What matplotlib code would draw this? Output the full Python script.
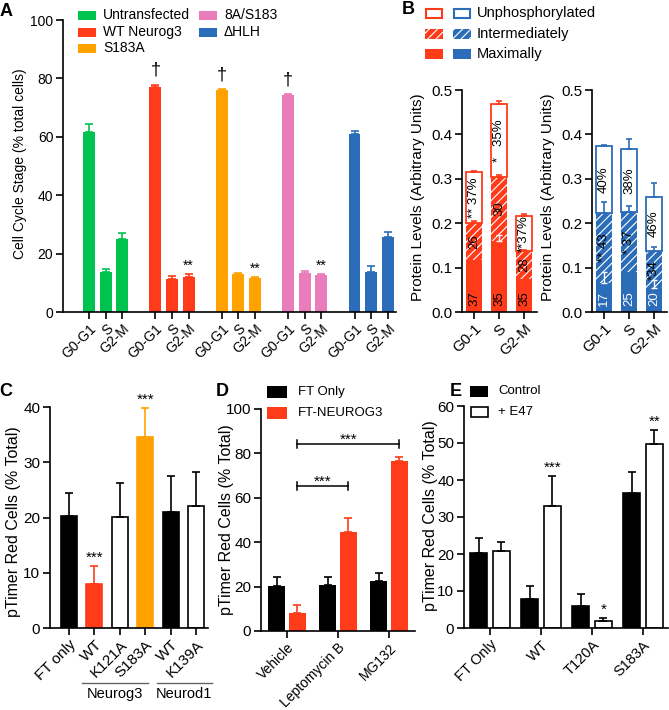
import matplotlib
matplotlib.use("Agg")
import matplotlib.pyplot as plt
from matplotlib.patches import Rectangle
import numpy as np

plt.rcParams["font.family"] = ["Liberation Sans", "DejaVu Sans"]
plt.rcParams["hatch.linewidth"] = 0.8

W, H = 669, 710

# ── COLOURS ───────────────────────────────────────────────────────────────────
GREEN = "#00C24F"
RED = "#FF3B1A"
ORANGE = "#FFA200"
PINK = "#E97DBB"
BLUE = "#2B6DB8"

# ── PANEL A: cell cycle stage ─────────────────────────────────────────────────
a_groups = ["Untransfected", "WT Neurog3", "S183A", "8A/S183", "ΔHLH"]
a_phases = ["G0-G1", "S", "G2-M"]
a_colors = [GREEN, RED, ORANGE, PINK, BLUE]
a_means = [[61.5, 13.6, 25.0],
           [77.0, 11.3, 12.0],
           [76.0, 12.9, 11.7],
           [74.3, 13.2, 12.7],
           [60.8, 13.7, 25.8]]
a_errs = [[2.9, 1.0, 2.2],
          [0.9, 1.1, 0.9],
          [0.2, 0.3, 0.4],
          [0.2, 0.8, 0.3],
          [1.3, 2.2, 1.7]]
a_dagger = ["", "†", "†", "†", ""]
a_star = ["", "**", "**", "**", ""]

# ── PANEL B: phosphorylation states (stacked) ─────────────────────────────────
b_phases = ["G0-1", "S", "G2-M"]
b_red_max = [0.117, 0.160, 0.075]
b_red_int = [0.083, 0.145, 0.062]
b_red_unp = [0.116, 0.163, 0.079]
b_red_max_err = [0.0, 0.013, 0.0]
b_red_int_err = [0.005, 0.004, 0.003]
b_red_unp_err = [0.002, 0.007, 0.004]
b_red_max_lab = ["37", "35", "35"]
b_red_int_lab = ["26", "30", "28"]
b_red_unp_lab = ["** 37%", "*   35%", "**37%"]

b_blue_max = [0.065, 0.090, 0.053]
b_blue_int = [0.159, 0.136, 0.085]
b_blue_unp = [0.150, 0.140, 0.120]
b_blue_max_err = [0.025, 0.0, 0.018]
b_blue_int_err = [0.023, 0.012, 0.009]
b_blue_unp_err = [0.002, 0.023, 0.032]
b_blue_max_lab = ["17", "25", "20"]
b_blue_int_lab = ["** 43", "* 37", "*34"]
b_blue_unp_lab = ["40%", "38%", "46%"]

# ── PANEL C: pTimer, mutants ──────────────────────────────────────────────────
c_labels = ["FT only", "WT", "K121A", "S183A", "WT", "K139A"]
c_means = [20.3, 7.9, 20.1, 34.5, 21.0, 22.0]
c_errs = [4.1, 3.4, 6.1, 5.4, 6.6, 6.2]
c_colors = ["black", RED, "white", ORANGE, "black", "white"]
c_edge_colors = ["black", RED, "black", ORANGE, "black", "black"]
c_star = ["", "***", "", "***", "", ""]

# ── PANEL D: inhibitors ───────────────────────────────────────────────────────
d_labels = ["Vehicle", "Leptomycin B", "MG132"]
d_ft_only = [20.3, 20.8, 22.3]
d_ft_only_err = [4.1, 3.6, 3.9]
d_ft_neurog3 = [8.0, 44.5, 76.5]
d_ft_neurog3_err = [3.5, 6.5, 2.0]

# ── PANEL E: E47 co-expression ────────────────────────────────────────────────
e_labels = ["FT Only", "WT", "T120A", "S183A"]
e_control = [20.2, 7.8, 6.0, 36.4]
e_control_err = [4.2, 3.6, 3.2, 5.8]
e_e47 = [20.9, 33.0, 1.8, 49.7]
e_e47_err = [2.4, 8.1, 0.9, 3.9]
e_star = ["", "***", "*", "**"]

fig = plt.figure(figsize=(W / 100, H / 100), dpi=100)
fig.patch.set_facecolor("white")


def px_axes(x0, y0, x1, y1):
    """Axes placed by pixel box (top-left origin)."""
    ax = fig.add_axes([x0 / W, 1 - y1 / H, (x1 - x0) / W, (y1 - y0) / H])
    ax.patch.set_visible(False)
    return ax


def style(ax, fs):
    for s in ["top", "right"]:
        ax.spines[s].set_visible(False)
    for s in ["left", "bottom"]:
        ax.spines[s].set_linewidth(1.2)
    ax.tick_params(width=1.2, length=5, labelsize=fs, pad=2)


def up_err(ax, x, y, e, color, cap=3, lw=1.2):
    e = np.asarray(e, dtype=float)
    ax.errorbar(x, y, yerr=[np.zeros_like(e), e], fmt="none", ecolor=color,
                elinewidth=lw, capsize=cap, capthick=lw, zorder=3)


def stars(ax, xs, tops, texts, fs, offset=3):
    for x, t, s in zip(xs, tops, texts):
        if s:
            ax.annotate(s, (x, t), xytext=(0, offset), textcoords="offset points",
                        ha="center", va="baseline", fontsize=fs,
                        annotation_clip=False)


def rot_labels(ax, labels, fs):
    ax.set_xticklabels(labels, rotation=45, ha="right", rotation_mode="anchor",
                       fontsize=fs)


# ── overlay for labels / legends ──────────────────────────────────────────────
ov = fig.add_axes([0, 0, 1, 1])
ov.set_xlim(0, W)
ov.set_ylim(H, 0)
ov.axis("off")
ov.set_zorder(10)


def leg_box(x0, yc, w, h, **kw):
    ov.add_patch(Rectangle((x0, yc - h / 2), w, h, **kw))


# ── A ─────────────────────────────────────────────────────────────────────────
axA = px_axes(63, 20, 396, 312)
style(axA, 10)
xa = np.arange(5)[:, None] * 4 + np.arange(3)[None, :]
for g in range(5):
    xs = xa[g]
    axA.bar(xs, a_means[g], width=0.72, color=a_colors[g], zorder=2)
    up_err(axA, xs, a_means[g], a_errs[g], a_colors[g])
    tops = np.array(a_means[g]) + np.array(a_errs[g])
    stars(axA, [xs[0]], [tops[0]], [a_dagger[g]], 13, offset=7)
    stars(axA, [xs[2]], [tops[2]], [a_star[g]], 10)
axA.set_xlim(-1.57, 18.5)
axA.set_ylim(0, 100)
axA.set_yticks(np.arange(0, 101, 20))
axA.set_xticks(xa.ravel())
rot_labels(axA, a_phases * 5, 10)

for i, (name, col) in enumerate(zip(a_groups, a_colors)):
    cx = [78, 199][i // 3]
    cy = [15, 32, 48][i % 3]
    leg_box(cx, cy, 18, 9, facecolor=col, edgecolor="none")
    ov.text(cx + 25, cy, name, fontsize=10, va="center", ha="left")

# ── B ─────────────────────────────────────────────────────────────────────────
def stacked(ax, color, mx, it, un, mx_e, it_e, un_e, mx_l, it_l, un_l, mx_tc):
    x = np.arange(3)
    mx, it, un = map(np.asarray, (mx, it, un))
    bw = 0.64
    ax.bar(x, mx, width=bw, color=color, lw=0, zorder=2)
    ax.bar(x, it, bottom=mx, width=bw, facecolor=color, edgecolor="white",
           hatch="////", lw=0, zorder=2)
    ax.bar(x, un, bottom=mx + it, width=bw, facecolor="white", edgecolor=color,
           lw=1.3, zorder=2)
    for xi, y, e in zip(x, mx, mx_e):
        if e > 0:
            up_err(ax, [xi], [y], [e], "white", cap=2.5, lw=1.0)
    up_err(ax, x, mx + it, it_e, color, cap=2.5)
    up_err(ax, x, mx + it + un, un_e, color, cap=2.5)
    for i in range(3):
        ax.text(x[i], 0.014, mx_l[i], rotation=90, ha="center", va="bottom",
                fontsize=9.5, color=mx_tc, zorder=4)
        ax.text(x[i], mx[i] + it[i] / 2, it_l[i], rotation=90, ha="center",
                va="center", fontsize=9.5, color="black", zorder=4)
        ax.text(x[i], mx[i] + it[i] + un[i] / 2, un_l[i], rotation=90,
                ha="center", va="center", fontsize=9.5, color="black", zorder=4)
    ax.set_xlim(-0.48, 2.52)
    ax.set_ylim(0, 0.5)
    ax.set_yticks(np.arange(0, 0.51, 0.1))
    ax.set_yticklabels([f"{v:.1f}" for v in np.arange(0, 0.51, 0.1)])
    ax.set_xticks(x)
    rot_labels(ax, b_phases, 11)


axB1 = px_axes(462, 90, 537, 312)
style(axB1, 11)
stacked(axB1, RED, b_red_max, b_red_int, b_red_unp, b_red_max_err,
        b_red_int_err, b_red_unp_err, b_red_max_lab, b_red_int_lab,
        b_red_unp_lab, "black")

axB2 = px_axes(592, 90, 667, 312)
style(axB2, 11)
stacked(axB2, BLUE, b_blue_max, b_blue_int, b_blue_unp, b_blue_max_err,
        b_blue_int_err, b_blue_unp_err, b_blue_max_lab, b_blue_int_lab,
        b_blue_unp_lab, "white")

b_leg = ["Unphosphorylated", "Intermediately", "Maximally"]
for i, name in enumerate(b_leg):
    cy = [13, 34, 54][i]
    for x0, col in [(425, RED), (453, BLUE)]:
        if i == 0:
            leg_box(x0 + 0.75, cy, 16.5, 9, facecolor="white", edgecolor=col, lw=1.5)
        elif i == 1:
            leg_box(x0, cy, 18, 10, facecolor=col, edgecolor="white",
                    hatch="////", lw=0)
        else:
            leg_box(x0, cy, 18, 10, facecolor=col, edgecolor="none")
    ov.text(477, cy, name, fontsize=10.5, va="center", ha="left")

# ── C ─────────────────────────────────────────────────────────────────────────
axC = px_axes(50, 407, 208, 628)
style(axC, 11)
xc = np.arange(len(c_labels))
axC.bar(xc, c_means, width=0.63, color=c_colors, edgecolor=c_edge_colors,
        lw=1.2, zorder=2)
for xi, m, e, ec in zip(xc, c_means, c_errs, c_edge_colors):
    up_err(axC, [xi], [m], [e], ec)
stars(axC, xc, np.array(c_means) + np.array(c_errs), c_star, 11)
axC.set_xlim(-0.75, 5.47)
axC.set_ylim(0, 40)
axC.set_yticks(np.arange(0, 41, 10))
axC.set_xticks(xc)
rot_labels(axC, c_labels, 11)

ov.plot([82, 148], [683, 683], color="#666666", lw=1)
ov.plot([157, 212], [683, 683], color="#666666", lw=1)
ov.text(115, 694, "Neurog3", fontsize=10.5, ha="center", va="center")
ov.text(184, 694, "Neurod1", fontsize=10.5, ha="center", va="center")

# ── D ─────────────────────────────────────────────────────────────────────────
axD = px_axes(261, 409, 415, 631)
style(axD, 11)
xd = np.arange(len(d_labels))
off = 0.205
axD.bar(xd - off, d_ft_only, width=0.33, color="black", zorder=2)
axD.bar(xd + off, d_ft_neurog3, width=0.33, color=RED, zorder=2)
up_err(axD, xd - off, d_ft_only, d_ft_only_err, "black")
up_err(axD, xd + off, d_ft_neurog3, d_ft_neurog3_err, RED)
for x2, yb in [(1, 65.3), (2, 84.2)]:
    x1 = xd[0] + off
    xe = xd[x2] + off
    axD.plot([x1, xe], [yb, yb], color="black", lw=1.1, clip_on=False)
    for xx in (x1, xe):
        axD.plot([xx, xx], [yb - 1.8, yb + 1.8], color="black", lw=1.1,
                 clip_on=False)
    axD.text((x1 + xe) / 2, yb + 0.3, "***", ha="center", va="baseline",
             fontsize=11)
axD.set_xlim(-0.51, 2.51)
axD.set_ylim(0, 100)
axD.set_yticks(np.arange(0, 101, 20))
axD.set_xticks(xd)
rot_labels(axD, d_labels, 10)

leg_box(267, 392, 20, 12, facecolor="black", edgecolor="none")
ov.text(298, 392, "FT Only", fontsize=9.5, va="center", ha="left")
leg_box(267, 413, 20, 12, facecolor=RED, edgecolor="none")
ov.text(298, 413, "FT-NEUROG3", fontsize=9.5, va="center", ha="left")

# ── E ─────────────────────────────────────────────────────────────────────────
axE = px_axes(464, 406, 668, 628)
style(axE, 11)
xe_ = np.arange(len(e_labels))
off = 0.22
axE.bar(xe_ - off, e_control, width=0.33, color="black", edgecolor="black",
        lw=1.2, zorder=2)
axE.bar(xe_ + off, e_e47, width=0.33, color="white", edgecolor="black",
        lw=1.2, zorder=2)
up_err(axE, xe_ - off, e_control, e_control_err, "black")
up_err(axE, xe_ + off, e_e47, e_e47_err, "black")
stars(axE, xe_ + off, np.array(e_e47) + np.array(e_e47_err), e_star, 11)
axE.set_xlim(-0.51, 3.49)
axE.set_ylim(0, 60)
axE.set_yticks(np.arange(0, 61, 10))
axE.set_xticks(xe_)
rot_labels(axE, e_labels, 10.5)

leg_box(470, 391, 18, 11, facecolor="black", edgecolor="none")
ov.text(498, 391, "Control", fontsize=9.5, va="center", ha="left")
leg_box(470.6, 412, 17, 10, facecolor="white", edgecolor="black", lw=1.2)
ov.text(498, 412, "+ E47", fontsize=9.5, va="center", ha="left")

# ── y labels & panel letters ──────────────────────────────────────────────────
ylabs = [(20, 164, "Cell Cycle Stage (% total cells)", 10),
         (418, 197, "Protein Levels (Arbitrary Units)", 11),
         (548, 197, "Protein Levels (Arbitrary Units)", 11),
         (14, 522, "pTimer Red Cells (% Total)", 11.5),
         (227, 520, "pTimer Red Cells (% Total)", 11.5),
         (430, 516, "pTimer Red Cells (% Total)", 11.5)]
for x, y, s, fs in ylabs:
    ov.text(x, y, s, rotation=90, ha="center", va="center", fontsize=fs)

for x, y, s in [(6, 11, "A"), (408, 9, "B"), (6, 391, "C"),
                (222, 392, "D"), (456, 392, "E")]:
    ov.text(x, y, s, ha="center", va="center", fontsize=13, fontweight="bold")

fig.savefig("out.png", dpi=100, facecolor="white")
